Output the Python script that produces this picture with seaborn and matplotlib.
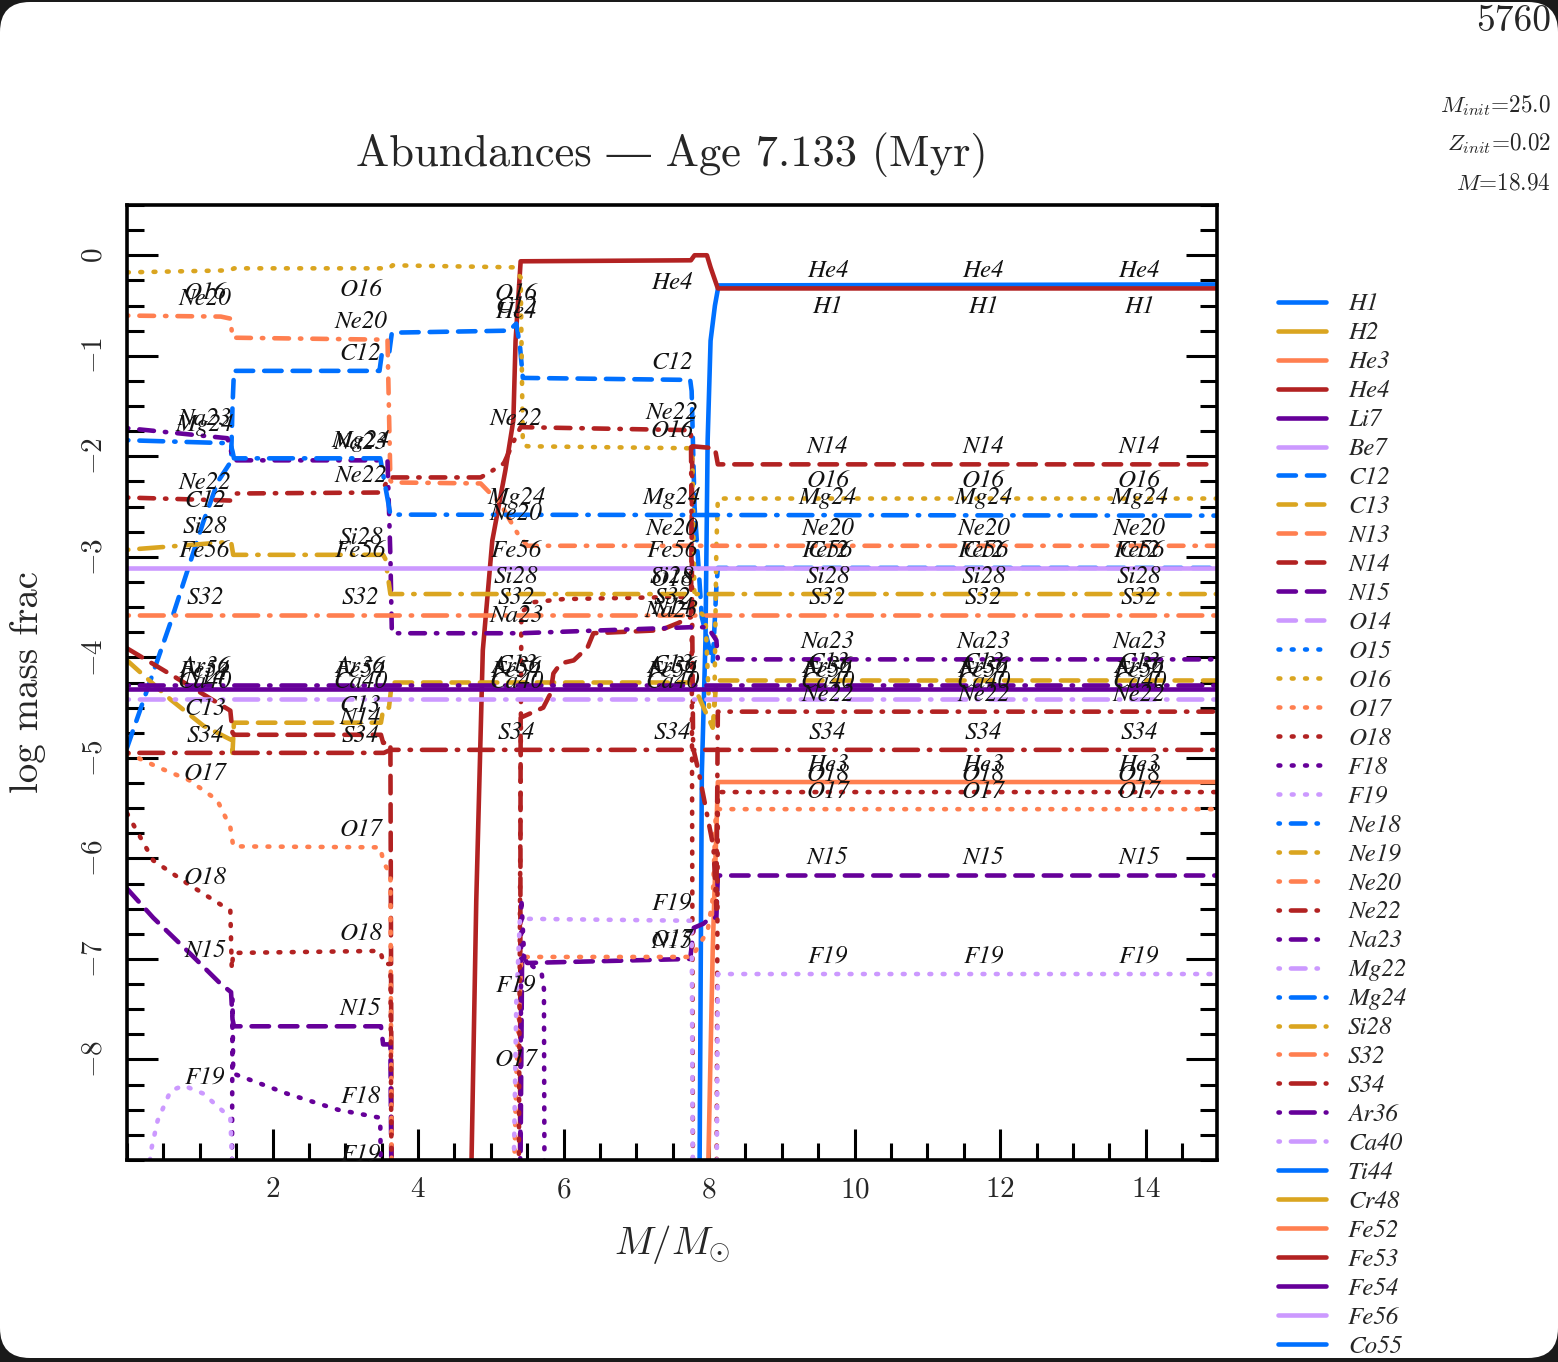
import numpy as np
import matplotlib
matplotlib.use("Agg")
import matplotlib.pyplot as plt
import seaborn as sns
from matplotlib.lines import Line2D
from matplotlib.patches import FancyBboxPatch
from matplotlib.transforms import IdentityTransform
from matplotlib.ticker import FixedLocator, MultipleLocator
from matplotlib.font_manager import FontProperties

# ---------------- data (mass coordinate in Msun, log10 mass fraction) ----------------
species = ['H1', 'H2', 'He3', 'He4', 'Li7', 'Be7', 'C12', 'C13', 'N13', 'N14', 'N15', 'O14',
           'O15', 'O16', 'O17', 'O18', 'F18', 'F19', 'Ne18', 'Ne19', 'Ne20', 'Ne22', 'Na23',
           'Mg22', 'Mg24', 'Si28', 'S32', 'S34', 'Ar36', 'Ca40', 'Ti44', 'Cr48', 'Fe52',
           'Fe53', 'Fe54', 'Fe56', 'Co55']

XMAX = 14.98
absent_m = [0.0, 14.98]
absent_y = [-30.0, -30.0]

H1_m = [7.86, 7.87, 7.90, 7.95, 7.98, 8.02, 8.08, 8.13, 14.98]
H1_y = [-9.8, -8.98, -5.15, -3.83, -1.84, -0.85, -0.50, -0.30, -0.29]

He3_m = [7.98, 7.99, 8.05, 8.12, 14.98]
He3_y = [-9.8, -9.0, -6.9, -5.24, -5.24]

He4_m = [4.72, 4.735, 4.80, 4.89, 5.02, 5.20, 5.31, 5.34, 5.41, 7.75, 7.80, 7.97, 8.02, 8.12, 14.98]
He4_y = [-9.8, -9.0, -6.42, -3.93, -2.84, -2.14, -1.64, -0.85, -0.06, -0.05, 0.0, 0.0, -0.12, -0.33, -0.33]

C12_m = [0.0, 0.6, 1.05, 1.25, 1.43, 1.45, 1.47, 3.47, 3.50, 3.60, 3.64, 5.25, 5.35, 5.40, 5.44,
         7.74, 7.76, 7.80, 7.90, 8.05, 8.10, 8.12, 14.98]
C12_y = [-4.9, -3.65, -2.65, -2.25, -2.05, -1.5, -1.15, -1.15, -0.99, -0.99, -0.77, -0.75, -0.68,
         -0.9, -1.22, -1.24, -1.35, -2.5, -3.6, -4.05, -3.3, -3.11, -3.11]

C13_m = [0.0, 0.6, 1.05, 1.43, 1.45, 1.47, 3.49, 3.52, 3.60, 3.64, 7.76, 7.80, 8.05, 8.10, 14.98]
C13_y = [-4.03, -4.42, -4.68, -4.82, -4.95, -4.65, -4.65, -4.52, -4.50, -4.25, -4.25, -4.3, -4.7,
         -4.23, -4.23]

N14_m = [0.0, 0.6, 1.42, 1.45, 1.47, 3.49, 3.52, 3.62, 3.64, 5.40, 5.41, 5.72, 5.82, 5.86, 5.96,
         6.14, 6.33, 6.41, 7.33, 7.57, 7.75, 7.77, 8.08, 8.12, 14.98]
N14_y = [-3.91, -4.17, -4.53, -4.75, -4.77, -4.77, -4.85, -4.85, -9.8, -9.8, -4.6, -4.5, -4.36,
         -4.16, -4.06, -4.03, -3.9, -3.76, -3.73, -3.66, -3.6, -1.9, -1.92, -2.08, -2.08]

N15_m = [0.0, 0.36, 0.83, 1.29, 1.43, 1.45, 1.47, 3.49, 3.52, 3.62, 3.64, 5.40, 5.43, 5.50, 7.74,
         7.79, 7.92, 8.02, 8.10, 8.12, 14.98]
N15_y = [-6.3, -6.59, -6.92, -7.25, -7.33, -7.6, -7.67, -7.67, -7.85, -7.85, -9.8, -9.8, -6.95,
         -7.04, -7.0, -6.69, -6.65, -6.59, -6.59, -6.17, -6.17]

O16_m = [0.0, 1.42, 1.47, 3.60, 3.65, 5.31, 5.41, 5.44, 5.50, 7.74, 7.77, 7.80, 7.95, 8.00, 8.07,
         8.10, 8.12, 14.98]
O16_y = [-0.17, -0.15, -0.13, -0.13, -0.10, -0.12, -0.22, -1.88, -1.90, -1.92, -2.0, -3.5, -3.6,
         -4.5, -4.6, -2.9, -2.42, -2.42]

O17_m = [0.0, 0.45, 0.85, 1.24, 1.42, 1.46, 3.48, 3.53, 3.62, 3.64, 5.30, 5.35, 5.42, 7.76, 7.85,
         7.98, 8.05, 8.09, 8.12, 14.98]
O17_y = [-4.95, -5.1, -5.22, -5.42, -5.69, -5.88, -5.89, -6.05, -6.15, -9.8, -9.8, -8.17, -6.98,
         -6.98, -6.88, -6.72, -6.4, -5.6, -5.51, -5.51]

O18_m = [0.0, 0.36, 0.83, 1.42, 1.44, 1.46, 3.48, 3.53, 3.62, 3.64, 5.38, 5.42, 5.60, 6.00, 7.50,
         7.76, 7.78, 8.10, 8.12, 14.98]
O18_y = [-5.55, -6.02, -6.25, -6.52, -7.1, -6.94, -6.92, -7.05, -7.05, -9.8, -9.8, -3.55, -3.45,
         -3.42, -3.40, -3.40, -9.8, -9.8, -5.34, -5.34]

F18_m = [1.44, 1.45, 1.46, 2.2, 2.9, 3.48, 3.50, 5.40, 5.42, 5.46, 5.70, 5.73, 5.74]
F18_y = [-9.8, -7.4, -8.14, -8.34, -8.5, -8.58, -9.8, -9.8, -6.4, -7.0, -7.15, -7.3, -9.8]

F19_m = [0.28, 0.32, 0.42, 0.60, 0.78, 1.05, 1.42, 1.45, 3.48, 3.50, 5.30, 5.35, 5.40, 7.76, 7.78,
         8.10, 8.12, 14.98]
F19_y = [-9.8, -8.94, -8.61, -8.31, -8.26, -8.34, -8.58, -9.12, -9.12, -9.8, -9.8, -7.44, -6.6,
         -6.62, -9.8, -9.8, -7.15, -7.15]

Ne20_m = [0.0, 1.29, 1.42, 1.45, 3.58, 3.62, 3.64, 4.86, 5.13, 5.37, 5.50, 14.98]
Ne20_y = [-0.60, -0.61, -0.63, -0.82, -0.84, -2.24, -2.26, -2.27, -2.47, -2.77, -2.89, -2.89]

Ne22_m = [0.0, 1.42, 1.45, 1.47, 3.48, 3.53, 3.60, 4.86, 4.96, 5.18, 5.34, 5.41, 7.75, 7.78, 7.86,
          8.06, 8.10, 8.12, 14.98]
Ne22_y = [-2.41, -2.44, -2.40, -2.37, -2.36, -2.31, -2.21, -2.21, -2.17, -2.07, -1.81, -1.71,
          -1.74, -4.9, -5.15, -5.89, -6.5, -4.54, -4.54]

Na23_m = [0.0, 1.38, 1.45, 1.47, 3.58, 3.62, 3.64, 5.40, 7.75, 7.98, 8.10, 8.12, 14.98]
Na23_y = [-1.72, -1.82, -2.0, -2.04, -2.04, -3.0, -3.76, -3.76, -3.70, -3.70, -3.83, -4.02, -4.02]

Mg24_m = [0.0, 1.42, 1.45, 1.47, 3.48, 3.55, 3.62, 14.98]
Mg24_y = [-1.84, -1.87, -1.95, -2.02, -2.02, -2.3, -2.58, -2.59]

Si28_m = [0.0, 1.43, 1.46, 3.52, 3.55, 3.62, 14.98]
Si28_y = [-2.93, -2.85, -2.98, -2.98, -3.02, -3.37, -3.37]

S32_m = [0.0, 14.98]
S32_y = [-3.58, -3.58]
S34_m = [0.0, 3.53, 3.62, 14.98]
S34_y = [-4.95, -4.95, -4.92, -4.92]
Ar36_m = [0.0, 14.98]
Ar36_y = [-4.27, -4.27]
Ca40_m = [0.0, 14.98]
Ca40_y = [-4.41, -4.41]
Fe54_m = [0.0, 14.98]
Fe54_y = [-4.31, -4.31]
Fe56_m = [0.0, 14.98]
Fe56_y = [-3.11, -3.11]

x_ticks = [2, 4, 6, 8, 10, 12, 14]
y_ticks = [0, -1, -2, -3, -4, -5, -6, -7, -8]

title_text = "Abundances \u2014 Age 7.133 (Myr)"
model_number = "5760"
info_lines = [r"$M_{init}$=25.0", r"$Z_{init}$=0.02", r"$M$=18.94"]

profiles = {
    'H1': (H1_m, H1_y), 'He3': (He3_m, He3_y), 'He4': (He4_m, He4_y),
    'C12': (C12_m, C12_y), 'C13': (C13_m, C13_y), 'N14': (N14_m, N14_y), 'N15': (N15_m, N15_y),
    'O16': (O16_m, O16_y), 'O17': (O17_m, O17_y), 'O18': (O18_m, O18_y),
    'F18': (F18_m, F18_y), 'F19': (F19_m, F19_y), 'Ne20': (Ne20_m, Ne20_y),
    'Ne22': (Ne22_m, Ne22_y), 'Na23': (Na23_m, Na23_y), 'Mg24': (Mg24_m, Mg24_y),
    'Si28': (Si28_m, Si28_y), 'S32': (S32_m, S32_y), 'S34': (S34_m, S34_y),
    'Ar36': (Ar36_m, Ar36_y), 'Ca40': (Ca40_m, Ca40_y), 'Fe54': (Fe54_m, Fe54_y),
    'Fe56': (Fe56_m, Fe56_y),
}

# ---------------- style ----------------
sns.set_style("ticks")
plt.rcParams['font.family'] = ['cmr10', 'STIXGeneral', 'DejaVu Sans']
plt.rcParams['mathtext.fontset'] = 'cm'
plt.rcParams['axes.formatter.use_mathtext'] = True
plt.rcParams['axes.unicode_minus'] = True

colors = ['#0070FF', '#DAA520', '#FF7F50', '#B22222', '#660099', '#CC99FF']
styles = ['-', (0, (3.8, 2.4)), (0, (0.4, 2.5)), (0, (0.3, 2.4, 3.2, 2.4)),
          (0, (0.3, 2.4, 5.2, 2.4)), '-', '-']
LW = 3.3
YMIN, YMAX = -9.0, 0.5

W, H = 1558, 1362
fig = plt.figure(figsize=(W / 100, H / 100), dpi=100)
fig.patch.set_facecolor('#1a1a1a')
bg = FancyBboxPatch((0, 4), W, H - 6, boxstyle="round,pad=0,rounding_size=30",
                    transform=IdentityTransform(), facecolor='white', edgecolor='none',
                    zorder=-10)
fig.add_artist(bg)

ax = fig.add_axes([127 / W, 1 - 1160 / H, 1090 / W, 955 / H])
ax.set_facecolor('white')

handles = []
for i, sp in enumerate(species):
    col = colors[i % 6]
    ls = styles[i // 6]
    m, y = profiles.get(sp, (absent_m, absent_y))
    sns.lineplot(x=np.array(m), y=np.array(y), ax=ax, color=col, linestyle=ls, lw=LW,
                 sort=False, estimator=None, dash_capstyle='round', solid_capstyle='butt',
                 zorder=2 + i * 0.01)
    handles.append(Line2D([], [], color=col, linestyle=ls, lw=LW, dash_capstyle='round',
                          solid_capstyle='round'))

# line labels placed at seven equally spaced mass coordinates
label_x = [(k + 0.5) * XMAX / 7 for k in range(7)]
lab_font = dict(family='STIXGeneral', style='italic', size=18)
for sp in species:
    if sp not in profiles:
        continue
    m, y = profiles[sp]
    for xl in label_x:
        v = float(np.interp(xl, m, y))
        ly = v + 0.17 if v + 0.17 <= -0.14 else v - 0.22
        if YMIN <= ly <= YMAX:
            ax.text(xl, ly, sp, ha='center', va='center', color='#111111', zorder=10,
                    **lab_font)

ax.set_xlim(0, XMAX)
ax.set_ylim(YMIN, YMAX)
ax.xaxis.set_major_locator(FixedLocator(x_ticks))
ax.xaxis.set_minor_locator(MultipleLocator(0.5))
ax.yaxis.set_major_locator(FixedLocator(y_ticks))
ax.yaxis.set_minor_locator(MultipleLocator(0.25))
ax.tick_params(which='both', direction='in', top=False, right=True, width=2.2, color='black')
ax.tick_params(which='major', length=22)
ax.tick_params(which='minor', length=12)
ax.tick_params(axis='x', labelsize=21, pad=12)
ax.tick_params(axis='y', labelsize=21, pad=14, labelrotation=90)
for lab in ax.get_yticklabels():
    lab.set_va('center')
for s in ax.spines.values():
    s.set_linewidth(2.6)
    s.set_color('black')

ax.set_xlabel(r"$M/M_{\odot}$", fontsize=28)
ax.xaxis.label.set_va('center')
ax.xaxis.set_label_coords(0.5, -0.089)
ax.set_ylabel("log mass frac", fontsize=28)
ax.yaxis.label.set_va('center')
ax.yaxis.set_label_coords(-0.0908, 0.5)

fig.text(672 / W, 1 - 155 / H, title_text, ha='center', va='center', fontsize=32)
fig.text(1551 / W, 1 - 21 / H, model_number, ha='right', va='center', fontsize=27)
for txt, yy in zip(info_lines, [106, 144, 183]):
    fig.text(1551 / W, 1 - yy / H, txt, ha='right', va='center', fontsize=16.7)

leg = fig.legend(handles, species, loc='upper left', bbox_to_anchor=(1278 / W, 1 - 293 / H),
                 frameon=False, prop=FontProperties(family='STIXGeneral', style='italic',
                                                    size=18),
                 handlelength=1.92, handletextpad=0.88, labelspacing=0.258, borderpad=0,
                 borderaxespad=0)

fig.savefig("out.png", dpi=100, facecolor=fig.get_facecolor())
